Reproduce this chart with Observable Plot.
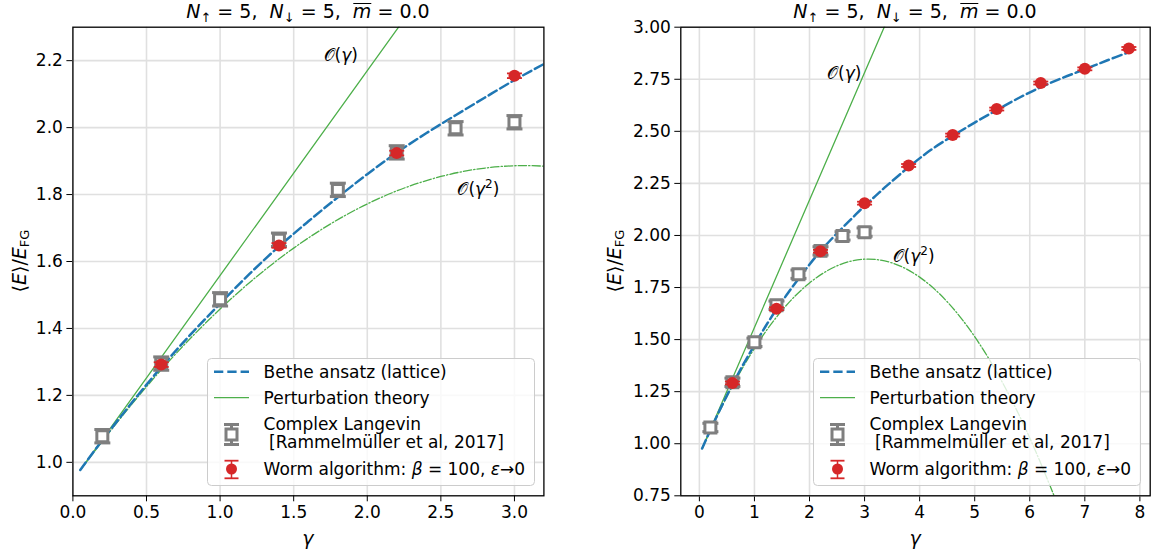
<!DOCTYPE html>
<html><head><meta charset="utf-8">
<script src="https://cdn.jsdelivr.net/npm/d3@7"></script>
<script src="https://cdn.jsdelivr.net/npm/@observablehq/plot@0.6"></script>
<style>
body{margin:0;background:#fff;}
#root{position:relative;width:1151px;height:550px;overflow:hidden;font-family:"DejaVu Sans",sans-serif;color:#000;background:#fff;}
.panel{position:absolute;top:0;}
.title{position:absolute;top:1px;font-size:19px;line-height:20px;white-space:nowrap;transform:translateX(-50%);}
.title sub{font-size:13px;line-height:0;vertical-align:-0.3em;}
.title .ov{display:inline-block;border-top:1.6px solid #000;line-height:15px;padding-top:0px;}
.ylab{position:absolute;top:261px;font-size:19px;line-height:19px;white-space:nowrap;transform:translate(-50%,-50%) rotate(-90deg);}
.ylab sub{font-size:13px;line-height:0;vertical-align:-0.25em;}
.xlab{position:absolute;top:529px;font-size:19px;line-height:19px;font-style:italic;transform:translateX(-50%);}
.legend{position:absolute;top:358px;width:328px;height:128px;}
</style>
</head><body><div id="root"></div>
<script>
// ---------- data ----------
const betheGamma = [0.05,0.2,0.4,0.6,0.8,1.0,1.2,1.4,1.6,1.8,2.0,2.2,2.4,2.6,2.8,3.0,3.2,3.4,3.8,4.2,4.6,5.0,5.4,5.8,6.2,6.6,7.0,7.4,7.8];
const betheE     = [0.977,1.066,1.178,1.284,1.382,1.474,1.563,1.645,1.720,1.792,1.861,1.925,1.983,2.037,2.090,2.142,2.190,2.238,2.328,2.410,2.478,2.542,2.602,2.660,2.712,2.757,2.798,2.840,2.880];

const pt1Gamma = [0.05, 3.5];
const pt1E     = [0.977, 3.088];

const pt2Gamma = [0.05,0.5,1.0,1.5,2.0,2.5,3.0,3.5,4.0,4.5,5.0,5.5,6.0,6.45];
const pt2E     = [0.977,1.226,1.458,1.640,1.772,1.854,1.886,1.868,1.800,1.682,1.514,1.296,1.028,0.745];

const clGamma = [0.2,0.6,1.0,1.4,1.8,2.2,2.6,3.0];
const clE     = [1.078,1.295,1.487,1.665,1.814,1.926,1.998,2.016];
const clErr   = [0.02,0.02,0.02,0.02,0.02,0.02,0.02,0.02];

const wormGamma = [0.6,1.4,2.2,3.0,3.8,4.6,5.4,6.2,7.0,7.8];
const wormE     = [1.292,1.648,1.924,2.155,2.336,2.482,2.607,2.732,2.800,2.898];
const wormErr   = [0.007,0.007,0.007,0.007,0.007,0.007,0.007,0.007,0.007,0.007];

const leftXTicks  = [0,0.5,1.0,1.5,2.0,2.5,3.0];
const leftYTicks  = [1.0,1.2,1.4,1.6,1.8,2.0,2.2];
const rightXTicks = [0,1,2,3,4,5,6,7,8];
const rightYTicks = [0.75,1.0,1.25,1.5,1.75,2.0,2.25,2.5,2.75,3.0];

const leftAnnots  = [{g:1.82, e:2.215, label:"𝒪(γ)"}, {g:2.755, e:1.815, label:"𝒪(γ²)"}];
const rightAnnots = [{g:2.63, e:2.778, label:"𝒪(γ)"}, {g:3.89, e:1.899, label:"𝒪(γ²)"}];

const legendLabels = ["Bethe ansatz (lattice)", "Perturbation theory", "Complex Langevin", " [Rammelmüller et al, 2017]", "Worm algorithm: "];

// ---------- styles ----------
const BLUE="#1f77b4", GREEN="#4daf4a", GRAY="#7f7f7f", RED="#d62728", GRID="#e0e0e0";

const bethe = betheGamma.map((g,i)=>({g, e:betheE[i]}));
const pt1 = pt1Gamma.map((g,i)=>({g, e:pt1E[i]}));
const pt2 = pt2Gamma.map((g,i)=>({g, e:pt2E[i]}));
const cl = clGamma.map((g,i)=>({g, e:clE[i], err:clErr[i]}));
const worm = wormGamma.map((g,i)=>({g, e:wormE[i], err:wormErr[i]}));

const capSymbol = {draw(ctx, size){ const w = Math.sqrt(size/Math.PI); ctx.moveTo(-w,0); ctx.lineTo(w,0); }};

function panel({width, marginLeft, marginRight, xDomain, yDomain, xTicks, yTicks, xFmt, yFmt, annots}) {
  const inX = d => d.g >= xDomain[0] && d.g <= xDomain[1] && d.e >= yDomain[0] && d.e <= yDomain[1];
  const clV = cl.filter(inX), wormV = worm.filter(inX);
  return Plot.plot({
    width, height: 550, marginTop: 26.7, marginBottom: 54.7, marginLeft, marginRight,
    style: {fontFamily: "DejaVu Sans", fontSize: "17px", background: "transparent", color: "black", overflow: "visible"},
    x: {domain: xDomain, ticks: xTicks, tickFormat: xFmt, tickSize: 6, tickPadding: 4, label: null},
    y: {domain: yDomain, ticks: yTicks, tickFormat: yFmt, tickSize: 6, tickPadding: 4, label: null},
    marks: [
      Plot.ruleX(xTicks, {stroke: GRID, strokeWidth: 1.6}),
      Plot.ruleY(yTicks, {stroke: GRID, strokeWidth: 1.6}),
      Plot.line(pt2, {x:"g", y:"e", stroke: GREEN, strokeWidth: 1.3, strokeDasharray: "8.3,2.1,1.3,2.1", curve: "natural", clip: true}),
      Plot.line(pt1, {x:"g", y:"e", stroke: GREEN, strokeWidth: 1.3, clip: true}),
      Plot.line(bethe, {x:"g", y:"e", stroke: BLUE, strokeWidth: 2.5, strokeDasharray: "9.3,4", curve: "catmull-rom", clip: true}),
      Plot.ruleX(clV, {x:"g", y1: d=>d.e-d.err, y2: d=>d.e+d.err, stroke: GRAY, strokeWidth: 3}),
      Plot.dot(clV, {x:"g", y: d=>d.e-d.err, symbol: capSymbol, r: 8, stroke: GRAY, strokeWidth: 3, fill: "none"}),
      Plot.dot(clV, {x:"g", y: d=>d.e+d.err, symbol: capSymbol, r: 8, stroke: GRAY, strokeWidth: 3, fill: "none"}),
      Plot.dot(clV, {x:"g", y:"e", symbol: "square", r: 6.2, stroke: GRAY, strokeWidth: 3, fill: "white"}),
      Plot.ruleX(wormV, {x:"g", y1: d=>d.e-d.err, y2: d=>d.e+d.err, stroke: RED, strokeWidth: 1.5}),
      Plot.dot(wormV, {x:"g", y: d=>d.e-d.err, symbol: capSymbol, r: 7.5, stroke: RED, strokeWidth: 1.8, fill: "none"}),
      Plot.dot(wormV, {x:"g", y: d=>d.e+d.err, symbol: capSymbol, r: 7.5, stroke: RED, strokeWidth: 1.8, fill: "none"}),
      Plot.dot(wormV, {x:"g", y:"e", r: 6, fill: RED, stroke: "none"}),
      Plot.text(annots, {x:"g", y:"e", text:"label", fontSize: 17, textAnchor: "middle", fill: "black"}),
      Plot.frame({stroke: "black", strokeWidth: 1.3})
    ]
  });
}

function fixAnnots(svg) {
  svg.querySelectorAll("text").forEach(t => {
    const s = t.textContent;
    if (s.startsWith("𝒪(")) {
      const sq = s.includes("²");
      t.textContent = "";
      const ns = "http://www.w3.org/2000/svg";
      const a = document.createElementNS(ns, "tspan"); a.textContent = "𝒪("; t.appendChild(a);
      const b = document.createElementNS(ns, "tspan"); b.textContent = "γ"; b.setAttribute("font-style","italic"); t.appendChild(b);
      if (sq) { const c = document.createElementNS(ns, "tspan"); c.textContent = "2"; c.setAttribute("font-size","12"); c.setAttribute("dy","-7"); t.appendChild(c);
        const d = document.createElementNS(ns, "tspan"); d.textContent = ")"; d.setAttribute("dy","7"); t.appendChild(d); }
      else { const d = document.createElementNS(ns, "tspan"); d.textContent = ")"; t.appendChild(d); }
    }
  });
}

function legendSVG() {
  return `<svg width="328" height="128" xmlns="http://www.w3.org/2000/svg" style="font-family:'DejaVu Sans';font-size:17px;overflow:visible">
  <rect x="0.5" y="0.5" width="327" height="127" rx="4" ry="4" fill="rgba(255,255,255,0.8)" stroke="#cccccc" stroke-width="1"/>
  <line x1="7" x2="42" y1="13.7" y2="13.7" stroke="${BLUE}" stroke-width="2.5" stroke-dasharray="9.3,4"/>
  <text x="56.6" y="13.7" dy="0.36em">${legendLabels[0]}</text>
  <line x1="7" x2="42" y1="39.7" y2="39.7" stroke="${GREEN}" stroke-width="1.3"/>
  <text x="56.6" y="39.7" dy="0.36em">${legendLabels[1]}</text>
  <line x1="24.5" x2="24.5" y1="66.5" y2="86.5" stroke="${GRAY}" stroke-width="3"/>
  <line x1="17" x2="32" y1="66.5" y2="66.5" stroke="${GRAY}" stroke-width="3"/>
  <line x1="17" x2="32" y1="86.5" y2="86.5" stroke="${GRAY}" stroke-width="3"/>
  <rect x="19" y="71" width="11" height="11" fill="white" stroke="${GRAY}" stroke-width="3"/>
  <text x="56.6" y="66" dy="0.36em">${legendLabels[2]}</text>
  <text x="56.6" y="83.7" dy="0.36em" xml:space="preserve">${legendLabels[3]}</text>
  <line x1="24.5" x2="24.5" y1="102.7" y2="120.3" stroke="${RED}" stroke-width="1.5"/>
  <line x1="17.5" x2="31.5" y1="102.7" y2="102.7" stroke="${RED}" stroke-width="1.8"/>
  <line x1="17.5" x2="31.5" y1="120.3" y2="120.3" stroke="${RED}" stroke-width="1.8"/>
  <circle cx="24.5" cy="111" r="5.5" fill="${RED}"/>
  <text x="56.6" y="111" dy="0.36em">${legendLabels[4]}<tspan font-style="italic">β</tspan> = 100, <tspan font-style="italic">ε</tspan>→0</text>
  </svg>`;
}

const root = document.getElementById("root");
const titleHTML = `<i>N</i><sub>↑</sub> = 5,&nbsp; <i>N</i><sub>↓</sub> = 5,&nbsp; <span class="ov"><i>m</i></span> = 0.0`;
const ylabHTML = `⟨<i>E</i>⟩/<i>E</i><sub>FG</sub>`;

const specs = [
  {left: 0, width: 575, marginLeft: 72.4, marginRight: 31.6, xDomain: [0, 3.2], yDomain: [0.9, 2.3],
   xTicks: leftXTicks, yTicks: leftYTicks, xFmt: d3.format(".1f"), yFmt: d3.format(".1f"), annots: leftAnnots,
   legendLeft: 207, ylabX: 19},
  {left: 575, width: 576, marginLeft: 105.3, marginRight: 1.3, xDomain: [-0.3375, 8.1875], yDomain: [0.75, 3.0],
   xTicks: rightXTicks, yTicks: rightYTicks, xFmt: d3.format("d"), yFmt: d3.format(".2f"), annots: rightAnnots,
   legendLeft: 813, ylabX: 614}
];

for (const s of specs) {
  const p = panel(s);
  p.classList.add("panel");
  p.style.left = s.left + "px";
  root.appendChild(p);
  fixAnnots(p);
  const cx = s.left + s.marginLeft + (s.width - s.marginLeft - s.marginRight) / 2;
  const t = document.createElement("div"); t.className = "title"; t.style.left = cx + "px"; t.innerHTML = titleHTML; root.appendChild(t);
  const yl = document.createElement("div"); yl.className = "ylab"; yl.style.left = s.ylabX + "px"; yl.innerHTML = ylabHTML; root.appendChild(yl);
  const xl = document.createElement("div"); xl.className = "xlab"; xl.style.left = cx + "px"; xl.textContent = "γ"; root.appendChild(xl);
  const lg = document.createElement("div"); lg.className = "legend"; lg.style.left = s.legendLeft + "px"; lg.innerHTML = legendSVG(); root.appendChild(lg);
}
</script>
</body></html>
